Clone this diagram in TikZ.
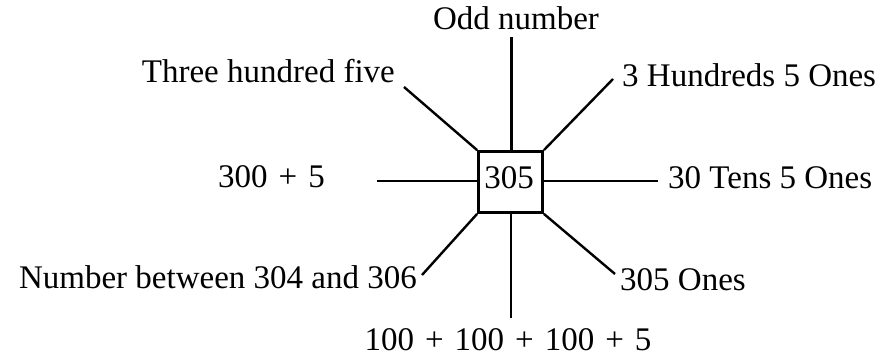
\documentclass[tikz,border=0pt]{standalone}
\usepackage{fontspec}
\setmainfont{Liberation Serif}
\newcommand{\pls}{\hspace{11pt}+\hspace{11pt}}
\begin{document}
\begin{tikzpicture}[x=1pt,y=-1pt,
  lbl/.style={inner sep=0pt,font=\fontsize{33}{40}\selectfont},
  centrebox/.style={draw,line width=2.8pt,minimum width=64pt,minimum height=61pt,inner sep=0pt,font=\fontsize{33}{40}\selectfont},
  spoke/.style={line width=2.4pt}]
\useasboundingbox (0,0) rectangle (882,358);
\node[centrebox] (c) at (510.5,182) {};
\node[lbl,anchor=base] (ctext) at (509,188) {305};
% labels
\node[lbl,anchor=base] (top) at (516,30) {Odd number};
\node[lbl,anchor=base east] (tl) at (395,83) {Three hundred five};
\node[lbl,anchor=base east] (l) at (325,187) {300\pls5};
\node[lbl,anchor=base east] (bl) at (417,288) {Number between 304 and 306};
\node[lbl,anchor=base west] (tr) at (622,87) {3 Hundreds 5 Ones};
\node[lbl,anchor=base west] (r) at (668,188) {30 Tens 5 Ones};
\node[lbl,anchor=base west] (br) at (620,290) {305 Ones};
\node[lbl,anchor=base] (bot) at (508,350) {100\pls100\pls100\pls5};
% spoke ends
\coordinate (etop) at (511.5,37);
\coordinate (ebot) at (511,318);
\coordinate (el) at (377,181);
\coordinate (er) at (658,181);
\coordinate (etl) at (404,87);
\coordinate (etr) at (613,79);
\coordinate (ebl) at (422,275);
\coordinate (ebr) at (615,274);
\draw[spoke] (c.north -| etop) -- (etop);
\draw[spoke] (c.south -| ebot) -- (ebot);
\draw[spoke] (c.west |- el) -- (el);
\draw[spoke] (c.east |- er) -- (er);
\draw[spoke] (c.north west) -- (etl);
\draw[spoke] (c.north east) -- (etr);
\draw[spoke] (c.south west) -- (ebl);
\draw[spoke] (c.south east) -- (ebr);
\end{tikzpicture}
\end{document}
